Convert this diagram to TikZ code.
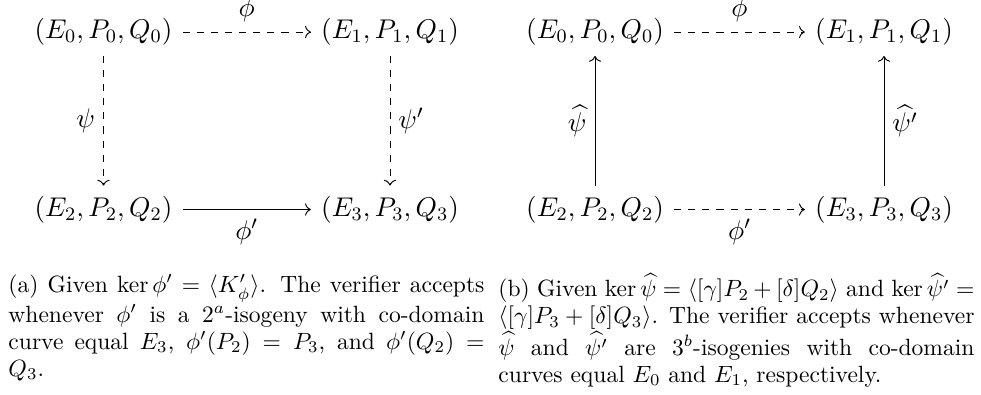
\RequirePackage{fix-cm}
\documentclass[tikz,border=0pt]{standalone}
\usepackage{amsmath}
\usetikzlibrary{arrows.meta}
\tikzset{
  obj/.style={inner sep=4.2pt, font=\fontsize{11.5}{14}\selectfont},
  arr/.style={-{Computer Modern Rightarrow}, line width=0.4pt},
  darr/.style={arr, dashed},
  lab/.style={inner sep=0pt, font=\fontsize{11.5}{14}\selectfont},
  captext/.style={inner sep=0pt, anchor=north west, text width=202.3pt, align=justify, font=\fontsize{10}{11.5}\selectfont}
}
\begin{document}
\begin{tikzpicture}[x=0.425pt,y=-0.425pt]
\useasboundingbox (0,0) rectangle (981,394);
% left diagram
\node[obj] (a0) at (103.5,32) {$(E_0,P_0,Q_0)$};
\node[obj] (a1) at (390,32) {$(E_1,P_1,Q_1)$};
\node[obj] (a2) at (103.5,209.5) {$(E_2,P_2,Q_2)$};
\node[obj] (a3) at (390,209.5) {$(E_3,P_3,Q_3)$};
\draw[darr] (a0) -- node[lab, above=4pt] (la1) {$\phi$} (a1);
\draw[darr] (a0) -- node[lab, left=3.4pt] (la2) {$\psi$} (a2);
\draw[darr] (a1) -- node[lab, right=3.4pt] (la3) {$\psi'$} (a3);
\draw[arr] (a2) -- node[lab, below=4pt] (la4) {$\phi'$} (a3);
% right diagram
\node[obj] (b0) at (595,32) {$(E_0,P_0,Q_0)$};
\node[obj] (b1) at (884,32) {$(E_1,P_1,Q_1)$};
\node[obj] (b2) at (595,209.5) {$(E_2,P_2,Q_2)$};
\node[obj] (b3) at (884,209.5) {$(E_3,P_3,Q_3)$};
\draw[darr] (b0) -- node[lab, above=4pt] (lb1) {$\phi$} (b1);
\draw[arr] (b2) -- node[lab, left=3.4pt] (lb2) {$\widehat{\psi}$} (b0);
\draw[arr] (b3) -- node[lab, right=3.4pt] (lb3) {$\widehat{\psi'}$} (b1);
\draw[darr] (b2) -- node[lab, below=4pt] (lb4) {$\phi'$} (b3);
% captions
\node[captext] (capa) at (8,273) {\strut(a) Given $\ker\phi' = \langle K'_\phi\rangle$. The verifier accepts\linebreak whenever $\phi'$ is a $2^a$-isogeny with co-domain\linebreak curve equal $E_3$, $\phi'(P_2) = P_3$, and $\phi'(Q_2) =$\linebreak $Q_3$.};
\node[captext] (capb) at (498,273) {\strut(b) Given $\ker\widehat{\psi} = \langle [\gamma]P_2+[\delta]Q_2\rangle$ and $\ker\widehat{\psi'} =$\linebreak $\langle[\gamma]P_3+[\delta]Q_3\rangle$. The verifier accepts whenever\linebreak $\widehat{\psi}$ and $\widehat{\psi'}$ are $3^b$-isogenies with co-domain\linebreak curves equal $E_0$ and $E_1$, respectively.};
\end{tikzpicture}
\end{document}
